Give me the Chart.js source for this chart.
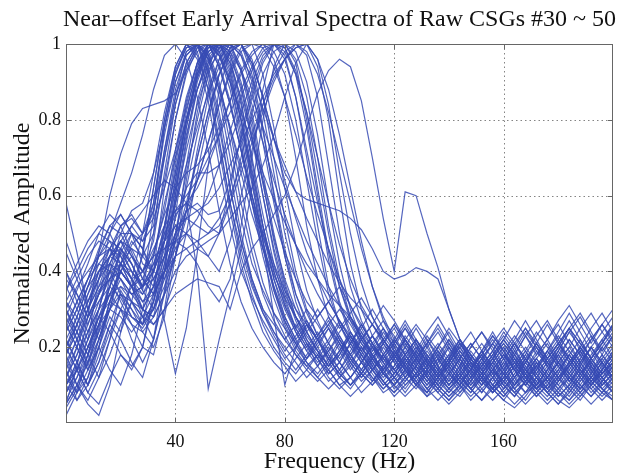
<!DOCTYPE html>
<html><head><meta charset="utf-8">
<script src="https://cdn.jsdelivr.net/npm/chart.js@4/dist/chart.umd.min.js"></script>
<style>html,body{margin:0;padding:0;background:#fff;}#wrap{width:625px;height:476px;}</style>
</head><body><div id="wrap"><canvas id="c" width="625" height="476"></canvas></div>
<script>
const titleText = 'Near\u2013offset Early Arrival Spectra of Raw CSGs #30 ~ 50';
const xTitle = 'Frequency (Hz)';
const yTitle = 'Normalized Amplitude';
const xTicks = [40, 80, 120, 160];
const yTicks = [0.2, 0.4, 0.6, 0.8, 1];
const freq = [0,4,8,12,16,20,24,28,32,36,40,44,48,52,56,60,64,68,72,76,80,84,88,92,96,100,104,108,112,116,120,124,128,132,136,140,144,148,152,156,160,164,168,172,176,180,184,188,192,196,200];

const a1 = [0.30,0.22,0.15,0.25,0.38,0.45,0.40,0.35,0.50,0.72, 0.88,0.97,1.00,0.93,0.80,0.62,0.48,0.38,0.30,0.26, 0.22,0.18,0.15,0.18,0.14,0.10,0.12,0.16,0.12,0.08, 0.10,0.14,0.11,0.07,0.09,0.13,0.10,0.06,0.09,0.12, 0.15,0.11,0.08,0.10,0.14,0.18,0.13,0.09,0.12,0.16, 0.11];
const a2 = [0.12,0.08,0.18,0.30,0.42,0.48,0.42,0.36,0.55,0.78, 0.92,1.00,0.96,0.85,0.68,0.52,0.40,0.33,0.27,0.22, 0.17,0.20,0.24,0.19,0.13,0.16,0.21,0.17,0.11,0.14, 0.19,0.15,0.10,0.13,0.17,0.12,0.08,0.11,0.15,0.19, 0.14,0.10,0.13,0.17,0.21,0.16,0.11,0.14,0.18,0.22, 0.17];
const a3 = [0.05,0.15,0.10,0.20,0.28,0.24,0.32,0.45,0.62,0.80, 0.94,1.00,0.97,0.88,0.74,0.58,0.44,0.34,0.26,0.20, 0.16,0.13,0.17,0.22,0.18,0.12,0.09,0.13,0.18,0.14, 0.09,0.12,0.16,0.21,0.15,0.10,0.13,0.09,0.06,0.10, 0.14,0.19,0.15,0.10,0.07,0.11,0.16,0.20,0.15,0.10, 0.13];
const a4 = [0.25,0.32,0.38,0.45,0.52,0.50,0.44,0.40,0.48,0.66, 0.84,0.95,1.00,0.96,0.86,0.70,0.54,0.42,0.35,0.29, 0.25,0.21,0.16,0.13,0.17,0.22,0.18,0.14,0.19,0.24, 0.20,0.15,0.11,0.14,0.18,0.22,0.17,0.12,0.15,0.19, 0.24,0.20,0.14,0.11,0.15,0.20,0.25,0.19,0.14,0.18, 0.23];
const a5 = [0.18,0.10,0.06,0.12,0.22,0.35,0.30,0.26,0.40,0.62, 0.80,0.93,1.00,0.97,0.88,0.74,0.58,0.45,0.34,0.27, 0.22,0.26,0.21,0.15,0.11,0.14,0.19,0.24,0.18,0.13, 0.17,0.22,0.18,0.12,0.08,0.12,0.17,0.13,0.10,0.14, 0.10,0.07,0.11,0.16,0.12,0.08,0.06,0.10,0.14,0.09, 0.07];
const a6 = [0.58,0.45,0.30,0.22,0.30,0.42,0.50,0.48,0.52,0.70, 0.86,0.98,1.00,0.90,0.75,0.58,0.46,0.36,0.29,0.24, 0.20,0.16,0.12,0.15,0.20,0.16,0.12,0.08,0.11,0.15, 0.12,0.08,0.12,0.17,0.13,0.09,0.07,0.11,0.16,0.12, 0.08,0.12,0.17,0.13,0.09,0.13,0.18,0.14,0.10,0.13, 0.16];
const a7 = [0.40,0.32,0.26,0.34,0.44,0.52,0.55,0.50,0.58,0.76, 0.90,0.98,1.00,0.94,0.82,0.66,0.50,0.38,0.30,0.24, 0.19,0.23,0.27,0.22,0.17,0.13,0.10,0.14,0.18,0.22, 0.17,0.12,0.09,0.13,0.17,0.13,0.09,0.12,0.17,0.21, 0.17,0.12,0.08,0.12,0.16,0.12,0.09,0.06,0.10,0.14, 0.18];
const a8 = [0.20,0.28,0.36,0.44,0.50,0.58,0.66,0.76,0.88,0.97, 1.00,0.96,0.86,0.72,0.56,0.42,0.32,0.25,0.20,0.16, 0.13,0.17,0.21,0.17,0.12,0.09,0.12,0.16,0.20,0.15, 0.11,0.15,0.19,0.14,0.10,0.07,0.10,0.14,0.18,0.13, 0.09,0.13,0.17,0.21,0.16,0.12,0.15,0.19,0.14,0.10, 0.13];
const a9 = [0.16,0.10,0.05,0.02,0.10,0.24,0.38,0.50,0.66,0.82, 0.94,1.00,0.98,0.88,0.72,0.56,0.42,0.32,0.24,0.19, 0.15,0.11,0.14,0.18,0.14,0.10,0.07,0.10,0.14,0.11, 0.07,0.10,0.13,0.09,0.06,0.09,0.13,0.17,0.13,0.09, 0.06,0.04,0.07,0.11,0.08,0.05,0.08,0.12,0.09,0.06, 0.09];
const a10 = [0.04,0.09,0.16,0.26,0.36,0.46,0.52,0.48,0.56,0.72, 0.86,0.95,1.00,0.98,0.90,0.77,0.62,0.48,0.37,0.29, 0.23,0.18,0.14,0.11,0.14,0.18,0.23,0.18,0.14,0.18, 0.22,0.27,0.22,0.17,0.13,0.17,0.22,0.18,0.14,0.10, 0.14,0.18,0.23,0.19,0.15,0.19,0.24,0.28,0.23,0.19, 0.23];
const a11 = [0.10,0.14,0.08,0.05,0.12,0.18,0.15,0.20,0.34,0.52, 0.70,0.85,0.95,1.00,0.97,0.88,0.74,0.58,0.44,0.33, 0.25,0.19,0.15,0.12,0.09,0.12,0.16,0.20,0.15,0.11, 0.08,0.11,0.15,0.11,0.08,0.05,0.08,0.12,0.16,0.12, 0.08,0.05,0.08,0.12,0.09,0.06,0.04,0.07,0.11,0.08, 0.06];
const a12 = [0.24,0.30,0.38,0.46,0.52,0.55,0.50,0.46,0.58,0.78, 0.92,0.99,1.00,0.92,0.78,0.62,0.48,0.37,0.29,0.23, 0.18,0.14,0.18,0.22,0.17,0.13,0.10,0.13,0.17,0.13, 0.10,0.07,0.10,0.14,0.10,0.07,0.10,0.14,0.18,0.14, 0.10,0.14,0.18,0.14,0.10,0.07,0.10,0.14,0.11,0.08, 0.11];

const b1 = [0.20,0.26,0.34,0.42,0.46,0.44,0.38,0.30,0.28,0.40, 0.58,0.75,0.90,0.98,1.00,0.95,0.84,0.70,0.55,0.42, 0.32,0.25,0.20,0.16,0.19,0.23,0.18,0.13,0.10,0.14, 0.18,0.14,0.10,0.08,0.12,0.16,0.20,0.15,0.11,0.08, 0.12,0.16,0.12,0.09,0.13,0.18,0.14,0.10,0.07,0.11, 0.15];
const b2 = [0.10,0.06,0.12,0.20,0.32,0.40,0.36,0.28,0.22,0.35, 0.55,0.74,0.88,0.97,1.00,0.96,0.85,0.69,0.52,0.38, 0.28,0.22,0.26,0.22,0.16,0.12,0.15,0.20,0.16,0.11, 0.08,0.12,0.17,0.13,0.09,0.06,0.10,0.14,0.19,0.15, 0.10,0.07,0.11,0.15,0.11,0.07,0.10,0.15,0.20,0.15, 0.11];
const b3 = [0.32,0.28,0.22,0.30,0.40,0.46,0.42,0.35,0.30,0.42, 0.60,0.78,0.92,1.00,0.97,0.90,0.78,0.63,0.48,0.36, 0.27,0.21,0.17,0.20,0.25,0.21,0.16,0.12,0.16,0.21, 0.17,0.13,0.17,0.22,0.18,0.13,0.10,0.14,0.19,0.24, 0.19,0.14,0.18,0.23,0.27,0.22,0.17,0.13,0.17,0.22, 0.26];
const b4 = [0.15,0.22,0.28,0.35,0.38,0.32,0.26,0.20,0.18,0.30, 0.48,0.68,0.85,0.95,1.00,0.97,0.88,0.75,0.60,0.46, 0.35,0.27,0.21,0.17,0.13,0.16,0.21,0.26,0.21,0.16, 0.12,0.09,0.13,0.18,0.14,0.10,0.14,0.19,0.15,0.11, 0.15,0.20,0.25,0.20,0.15,0.11,0.15,0.20,0.16,0.12, 0.09];
const b5 = [0.08,0.14,0.22,0.38,0.50,0.55,0.50,0.42,0.40,0.52, 0.66,0.82,0.94,1.00,0.98,0.91,0.80,0.66,0.52,0.40, 0.31,0.25,0.20,0.24,0.19,0.14,0.10,0.13,0.17,0.13, 0.10,0.14,0.10,0.07,0.11,0.15,0.11,0.08,0.12,0.16, 0.13,0.09,0.06,0.10,0.14,0.10,0.07,0.11,0.15,0.12, 0.08];
const b6 = [0.22,0.16,0.10,0.16,0.26,0.34,0.30,0.24,0.20,0.28, 0.44,0.64,0.82,0.94,1.00,0.98,0.90,0.78,0.63,0.49, 0.38,0.30,0.24,0.19,0.15,0.18,0.23,0.19,0.14,0.10, 0.13,0.18,0.22,0.17,0.12,0.16,0.21,0.16,0.12,0.09, 0.13,0.17,0.13,0.09,0.12,0.17,0.22,0.18,0.13,0.17, 0.21];
const b7 = [0.28,0.35,0.42,0.50,0.55,0.52,0.45,0.38,0.34,0.44, 0.62,0.80,0.93,1.00,0.99,0.92,0.80,0.65,0.50,0.38, 0.30,0.24,0.19,0.15,0.19,0.24,0.28,0.23,0.18,0.14, 0.18,0.23,0.19,0.15,0.20,0.25,0.21,0.17,0.13,0.17, 0.22,0.27,0.23,0.18,0.22,0.27,0.31,0.26,0.21,0.26, 0.30];
const b8 = [0.26,0.20,0.14,0.20,0.30,0.40,0.47,0.50,0.54,0.62, 0.72,0.83,0.93,0.99,1.00,0.94,0.82,0.67,0.52,0.40, 0.31,0.24,0.19,0.23,0.28,0.23,0.18,0.14,0.11,0.15, 0.19,0.15,0.11,0.08,0.12,0.16,0.12,0.09,0.13,0.17, 0.21,0.17,0.12,0.09,0.12,0.16,0.12,0.09,0.13,0.18, 0.14];
const b9 = [0.06,0.12,0.20,0.28,0.24,0.18,0.14,0.20,0.32,0.48, 0.64,0.80,0.92,0.99,1.00,0.93,0.80,0.64,0.48,0.35, 0.26,0.20,0.16,0.12,0.16,0.21,0.17,0.13,0.17,0.22, 0.18,0.14,0.10,0.14,0.19,0.15,0.11,0.08,0.12,0.16, 0.12,0.08,0.05,0.08,0.12,0.16,0.12,0.08,0.05,0.08, 0.12];
const b10 = [0.35,0.42,0.48,0.52,0.50,0.44,0.38,0.32,0.36,0.48, 0.64,0.80,0.92,0.98,1.00,0.97,0.89,0.76,0.60,0.45, 0.33,0.25,0.30,0.26,0.21,0.16,0.12,0.16,0.21,0.25, 0.20,0.15,0.19,0.24,0.28,0.23,0.18,0.14,0.18,0.23, 0.19,0.15,0.19,0.24,0.20,0.16,0.20,0.25,0.29,0.24, 0.20];
const b11 = [0.02,0.08,0.14,0.20,0.14,0.10,0.18,0.30,0.44,0.58, 0.70,0.80,0.88,0.95,0.99,1.00,0.94,0.82,0.66,0.50, 0.37,0.28,0.22,0.17,0.21,0.26,0.21,0.16,0.12,0.09, 0.12,0.16,0.20,0.16,0.12,0.08,0.11,0.15,0.19,0.15, 0.11,0.08,0.11,0.15,0.19,0.15,0.11,0.08,0.11,0.15, 0.19];
const b12 = [0.38,0.34,0.28,0.34,0.42,0.48,0.46,0.40,0.44,0.56, 0.72,0.86,0.95,1.00,0.98,0.90,0.76,0.60,0.46,0.35, 0.27,0.21,0.25,0.30,0.25,0.19,0.14,0.18,0.23,0.19, 0.14,0.11,0.15,0.19,0.15,0.11,0.15,0.20,0.24,0.20, 0.15,0.19,0.24,0.20,0.16,0.20,0.25,0.21,0.17,0.21, 0.26];

const d1 = [0.12,0.20,0.30,0.40,0.44,0.42,0.36,0.30,0.26,0.30, 0.38,0.50,0.66,0.80,0.92,0.99,1.00,0.94,0.82,0.66, 0.50,0.38,0.29,0.23,0.18,0.14,0.18,0.23,0.18,0.13, 0.10,0.14,0.19,0.15,0.11,0.08,0.12,0.17,0.13,0.09, 0.06,0.10,0.15,0.12,0.08,0.05,0.09,0.13,0.10,0.07, 0.10];
const d2 = [0.30,0.24,0.18,0.24,0.36,0.45,0.50,0.46,0.40,0.38, 0.44,0.56,0.72,0.86,0.96,1.00,0.97,0.88,0.74,0.58, 0.44,0.34,0.27,0.22,0.26,0.21,0.16,0.12,0.15,0.20, 0.16,0.12,0.15,0.20,0.24,0.19,0.14,0.10,0.14,0.18, 0.14,0.10,0.14,0.19,0.15,0.11,0.15,0.19,0.23,0.18, 0.14];
const d3 = [0.05,0.10,0.18,0.28,0.34,0.30,0.22,0.16,0.22,0.34, 0.50,0.66,0.80,0.92,0.99,1.00,0.93,0.80,0.64,0.48, 0.36,0.28,0.22,0.18,0.22,0.27,0.22,0.17,0.13,0.09, 0.12,0.16,0.12,0.08,0.12,0.17,0.22,0.18,0.14,0.10, 0.07,0.11,0.16,0.20,0.16,0.12,0.08,0.12,0.16,0.12, 0.08];
const d4 = [0.45,0.38,0.30,0.36,0.44,0.48,0.44,0.38,0.34,0.40, 0.50,0.62,0.76,0.88,0.96,1.00,0.98,0.90,0.77,0.61, 0.46,0.34,0.26,0.20,0.15,0.19,0.24,0.19,0.15,0.11, 0.15,0.20,0.16,0.12,0.16,0.20,0.16,0.12,0.08,0.12, 0.16,0.12,0.16,0.21,0.17,0.13,0.09,0.13,0.17,0.13, 0.17];
const d5 = [0.14,0.08,0.12,0.22,0.30,0.36,0.32,0.26,0.30,0.38, 0.48,0.58,0.70,0.82,0.92,0.98,1.00,0.96,0.86,0.70, 0.54,0.40,0.30,0.23,0.27,0.22,0.17,0.13,0.10,0.13, 0.17,0.21,0.17,0.12,0.09,0.13,0.17,0.13,0.09,0.06, 0.09,0.13,0.17,0.13,0.09,0.12,0.16,0.20,0.16,0.12, 0.15];
const d6 = [0.32,0.26,0.20,0.26,0.34,0.40,0.44,0.40,0.36,0.40, 0.48,0.56,0.64,0.74,0.84,0.93,0.99,1.00,0.92,0.78, 0.62,0.47,0.35,0.27,0.21,0.17,0.21,0.26,0.21,0.16, 0.20,0.25,0.20,0.15,0.11,0.15,0.19,0.15,0.11,0.15, 0.19,0.23,0.19,0.14,0.18,0.22,0.27,0.22,0.17,0.21, 0.26];

const c1 = [0.18,0.26,0.34,0.40,0.42,0.38,0.34,0.36,0.42,0.50, 0.56,0.60,0.64,0.70,0.76,0.82,0.88,0.94,0.99,1.00, 0.96,0.86,0.70,0.52,0.36,0.26,0.20,0.16,0.20,0.25, 0.21,0.16,0.12,0.15,0.20,0.16,0.12,0.09,0.13,0.18, 0.22,0.18,0.13,0.10,0.14,0.19,0.24,0.20,0.15,0.11, 0.15];
const c2 = [0.35,0.40,0.46,0.50,0.48,0.42,0.36,0.38,0.45,0.55, 0.62,0.66,0.68,0.72,0.78,0.85,0.92,0.97,1.00,0.98, 0.92,0.80,0.64,0.48,0.34,0.26,0.21,0.25,0.30,0.25, 0.19,0.14,0.18,0.23,0.19,0.14,0.10,0.14,0.19,0.23, 0.19,0.14,0.10,0.14,0.19,0.24,0.29,0.24,0.19,0.14, 0.18];
const c3 = [0.10,0.16,0.24,0.32,0.36,0.33,0.28,0.25,0.30,0.40, 0.50,0.56,0.58,0.55,0.56,0.64,0.75,0.86,0.95,1.00, 0.99,0.93,0.82,0.66,0.50,0.36,0.27,0.21,0.17,0.21, 0.25,0.20,0.15,0.11,0.15,0.20,0.15,0.11,0.08,0.12, 0.16,0.21,0.17,0.12,0.09,0.13,0.18,0.14,0.10,0.14, 0.19];
const c4 = [0.26,0.20,0.14,0.22,0.32,0.38,0.34,0.30,0.36,0.46, 0.52,0.50,0.46,0.44,0.50,0.62,0.76,0.88,0.96,1.00, 1.00,0.96,0.86,0.70,0.52,0.38,0.28,0.22,0.26,0.31, 0.27,0.22,0.17,0.21,0.26,0.21,0.16,0.12,0.16,0.21, 0.17,0.12,0.16,0.21,0.26,0.21,0.16,0.20,0.25,0.29, 0.24];
const c5 = [0.14,0.20,0.28,0.34,0.38,0.40,0.36,0.32,0.34,0.40, 0.46,0.50,0.48,0.44,0.40,0.48,0.60,0.72,0.84,0.93, 0.98,1.00,0.97,0.86,0.68,0.50,0.36,0.27,0.21,0.17, 0.21,0.26,0.21,0.16,0.12,0.16,0.21,0.17,0.13,0.09, 0.13,0.18,0.14,0.10,0.14,0.19,0.15,0.11,0.15,0.20, 0.16];
const c6 = [0.22,0.28,0.36,0.44,0.48,0.46,0.40,0.36,0.40,0.48, 0.55,0.58,0.56,0.52,0.50,0.58,0.70,0.82,0.92,0.98, 1.00,0.98,0.90,0.76,0.58,0.42,0.30,0.22,0.17,0.21, 0.26,0.21,0.16,0.12,0.16,0.21,0.17,0.13,0.17,0.21, 0.25,0.21,0.16,0.12,0.16,0.20,0.16,0.12,0.17,0.21, 0.25];
const c7 = [0.30,0.36,0.40,0.44,0.46,0.42,0.38,0.40,0.46,0.52, 0.56,0.58,0.62,0.68,0.76,0.85,0.93,0.98,1.00,0.96, 0.86,0.70,0.52,0.38,0.28,0.22,0.18,0.22,0.26,0.21, 0.16,0.20,0.25,0.20,0.15,0.11,0.15,0.20,0.24,0.19, 0.14,0.18,0.23,0.27,0.22,0.17,0.13,0.17,0.22,0.26, 0.21];
const c8 = [0.08,0.14,0.20,0.26,0.30,0.28,0.24,0.28,0.34,0.40, 0.44,0.46,0.48,0.50,0.54,0.60,0.68,0.76,0.84,0.91, 0.96,0.99,1.00,0.94,0.80,0.60,0.42,0.30,0.23,0.18, 0.14,0.18,0.22,0.18,0.14,0.10,0.14,0.18,0.14,0.10, 0.07,0.10,0.14,0.11,0.08,0.12,0.16,0.12,0.08,0.11, 0.14];
const c9 = [0.20,0.14,0.08,0.14,0.22,0.30,0.36,0.40,0.44,0.46, 0.48,0.50,0.54,0.60,0.68,0.77,0.86,0.93,0.98,1.00, 0.99,0.92,0.78,0.60,0.43,0.31,0.23,0.18,0.14,0.18, 0.22,0.18,0.14,0.10,0.13,0.17,0.21,0.17,0.13,0.09, 0.12,0.16,0.20,0.16,0.12,0.16,0.20,0.16,0.12,0.16, 0.20];

const e1 = [0.16,0.22,0.30,0.38,0.44,0.46,0.42,0.36,0.40,0.52, 0.66,0.80,0.91,0.98,1.00,0.98,0.93,0.86,0.78,0.70, 0.62,0.55,0.48,0.42,0.36,0.31,0.27,0.23,0.19,0.22, 0.26,0.22,0.17,0.13,0.17,0.22,0.18,0.14,0.10,0.14, 0.18,0.14,0.10,0.14,0.19,0.15,0.11,0.15,0.20,0.16, 0.12];
const e2 = [0.08,0.12,0.18,0.26,0.34,0.40,0.36,0.30,0.36,0.50, 0.68,0.84,0.95,1.00,0.97,0.90,0.82,0.74,0.66,0.59, 0.53,0.47,0.42,0.38,0.34,0.31,0.28,0.24,0.20,0.17, 0.14,0.18,0.22,0.18,0.14,0.10,0.13,0.17,0.21,0.17, 0.13,0.09,0.12,0.16,0.12,0.09,0.12,0.16,0.20,0.16, 0.12];
const e3 = [0.26,0.32,0.38,0.42,0.40,0.34,0.28,0.26,0.32,0.44, 0.58,0.72,0.84,0.93,0.98,1.00,0.97,0.91,0.83,0.75, 0.68,0.61,0.54,0.48,0.42,0.37,0.33,0.30,0.26,0.22, 0.18,0.14,0.17,0.21,0.25,0.20,0.15,0.11,0.15,0.19, 0.23,0.19,0.14,0.18,0.22,0.26,0.21,0.16,0.20,0.24, 0.28];
const e4 = [0.12,0.18,0.24,0.30,0.34,0.36,0.34,0.36,0.42,0.48, 0.52,0.54,0.52,0.50,0.52,0.58,0.66,0.74,0.82,0.90, 0.96,1.00,0.98,0.92,0.82,0.70,0.58,0.46,0.36,0.28, 0.22,0.18,0.14,0.17,0.21,0.17,0.13,0.09,0.12,0.16, 0.20,0.16,0.12,0.15,0.19,0.23,0.19,0.15,0.11,0.14, 0.18];
const e5 = [0.40,0.34,0.28,0.32,0.38,0.42,0.40,0.36,0.38,0.44, 0.50,0.54,0.56,0.58,0.62,0.68,0.74,0.80,0.86,0.92, 0.96,0.99,1.00,0.96,0.88,0.76,0.62,0.48,0.36,0.27, 0.21,0.25,0.21,0.16,0.12,0.16,0.20,0.24,0.19,0.14, 0.18,0.22,0.27,0.22,0.17,0.21,0.25,0.29,0.24,0.19, 0.23];
const e6 = [0.22,0.16,0.10,0.16,0.24,0.30,0.28,0.26,0.32,0.42, 0.54,0.62,0.66,0.66,0.68,0.74,0.82,0.90,0.97,1.00, 0.98,0.92,0.82,0.70,0.58,0.47,0.38,0.31,0.26,0.22, 0.18,0.14,0.10,0.14,0.18,0.14,0.10,0.07,0.10,0.14, 0.11,0.08,0.11,0.15,0.11,0.08,0.05,0.08,0.12,0.09, 0.06];
const e7 = [0.05,0.10,0.16,0.24,0.30,0.34,0.32,0.28,0.30,0.36, 0.44,0.54,0.64,0.74,0.84,0.92,0.98,1.00,0.99,0.94, 0.86,0.76,0.65,0.55,0.46,0.38,0.31,0.25,0.20,0.16, 0.12,0.16,0.20,0.16,0.12,0.09,0.12,0.16,0.12,0.08, 0.11,0.15,0.11,0.07,0.10,0.14,0.10,0.07,0.10,0.14, 0.10];
const e8 = [0.48,0.40,0.32,0.38,0.46,0.52,0.54,0.50,0.56,0.70, 0.84,0.94,0.99,1.00,0.94,0.84,0.72,0.60,0.50,0.42, 0.35,0.30,0.26,0.22,0.26,0.30,0.26,0.21,0.17,0.13, 0.17,0.22,0.18,0.14,0.10,0.14,0.18,0.14,0.10,0.13, 0.17,0.21,0.17,0.13,0.17,0.21,0.17,0.13,0.09,0.12, 0.16];
const e9 = [0.14,0.06,0.10,0.18,0.26,0.22,0.16,0.12,0.22,0.40, 0.60,0.78,0.91,0.99,1.00,0.95,0.86,0.75,0.64,0.54, 0.45,0.38,0.32,0.28,0.32,0.36,0.31,0.26,0.21,0.17, 0.13,0.17,0.13,0.09,0.13,0.17,0.13,0.09,0.06,0.09, 0.13,0.17,0.13,0.09,0.06,0.09,0.13,0.17,0.13,0.09, 0.06];
const e10 = [0.32,0.38,0.44,0.48,0.46,0.40,0.36,0.44,0.62,0.80, 0.93,0.99,1.00,0.96,0.88,0.78,0.68,0.58,0.49,0.41, 0.34,0.28,0.23,0.19,0.15,0.19,0.24,0.20,0.16,0.12, 0.15,0.19,0.15,0.11,0.14,0.18,0.22,0.18,0.14,0.18, 0.22,0.18,0.14,0.10,0.14,0.18,0.22,0.18,0.22,0.26, 0.22];
const e11 = [0.18,0.24,0.30,0.36,0.40,0.42,0.38,0.34,0.38,0.44, 0.48,0.46,0.42,0.36,0.32,0.38,0.52,0.70,0.88,1.00, 0.97,0.86,0.72,0.58,0.46,0.36,0.28,0.22,0.18,0.14, 0.18,0.22,0.18,0.14,0.10,0.13,0.17,0.21,0.17,0.13, 0.17,0.21,0.25,0.21,0.17,0.21,0.25,0.21,0.17,0.13, 0.16];
const e12 = [0.20,0.14,0.20,0.28,0.36,0.42,0.46,0.44,0.40,0.48, 0.62,0.76,0.88,0.96,1.00,0.99,0.93,0.84,0.74,0.64, 0.55,0.47,0.40,0.34,0.29,0.25,0.29,0.33,0.28,0.23, 0.19,0.15,0.12,0.15,0.19,0.15,0.11,0.14,0.18,0.22, 0.18,0.14,0.10,0.13,0.17,0.21,0.17,0.13,0.16,0.20, 0.24];
const e13 = [0.10,0.16,0.22,0.28,0.32,0.30,0.26,0.24,0.28,0.34, 0.40,0.44,0.46,0.48,0.50,0.54,0.58,0.62,0.68,0.76, 0.86,0.95,1.00,0.96,0.84,0.66,0.50,0.37,0.28,0.22, 0.18,0.22,0.26,0.22,0.17,0.13,0.17,0.21,0.17,0.13, 0.13,0.10,0.13,0.17,0.13,0.10,0.14,0.18,0.14,0.10, 0.13];
const e14 = [0.30,0.24,0.18,0.12,0.18,0.26,0.32,0.30,0.28,0.34, 0.44,0.56,0.70,0.82,0.92,0.98,1.00,0.95,0.86,0.75, 0.64,0.54,0.45,0.38,0.32,0.27,0.23,0.19,0.23,0.27, 0.23,0.18,0.14,0.10,0.14,0.18,0.14,0.10,0.13,0.17, 0.13,0.09,0.13,0.17,0.13,0.09,0.06,0.09,0.13,0.17, 0.13];
const e15 = [0.36,0.30,0.24,0.30,0.40,0.50,0.56,0.58,0.66,0.78, 0.90,0.97,1.00,0.97,0.89,0.78,0.66,0.55,0.46,0.39, 0.33,0.28,0.24,0.28,0.32,0.27,0.22,0.18,0.14,0.17, 0.21,0.17,0.13,0.16,0.20,0.24,0.19,0.15,0.11,0.14, 0.18,0.14,0.10,0.07,0.10,0.14,0.18,0.14,0.10,0.13, 0.17];

const plateau = [0.20,0.26,0.32,0.38,0.42,0.40,0.36,0.34,0.40,0.48, 0.58,0.68,0.78,0.87,0.94,0.99,1.00,0.95,0.86,0.75, 0.66,0.61,0.59,0.58,0.57,0.56,0.54,0.51,0.46,0.40, 0.38,0.39,0.41,0.40,0.38,0.30,0.22,0.16,0.12,0.16, 0.20,0.16,0.12,0.09,0.12,0.16,0.13,0.10,0.07,0.10, 0.13];
const late100 = [0.12,0.18,0.26,0.34,0.40,0.38,0.32,0.28,0.26,0.30, 0.34,0.36,0.38,0.37,0.36,0.30,0.40,0.46,0.50,0.55, 0.60,0.68,0.78,0.87,0.93,0.96,0.94,0.85,0.70,0.54, 0.40,0.61,0.60,0.50,0.41,0.30,0.22,0.17,0.13,0.17, 0.21,0.17,0.13,0.09,0.12,0.16,0.12,0.09,0.12,0.16, 0.12];
const broad = [0.10,0.15,0.28,0.45,0.60,0.71,0.79,0.83,0.84,0.85, 0.87,0.93,0.98,1.00,0.95,0.85,0.72,0.58,0.46,0.36, 0.28,0.22,0.17,0.21,0.25,0.20,0.15,0.11,0.14,0.18, 0.14,0.10,0.13,0.17,0.13,0.09,0.12,0.16,0.12,0.08, 0.11,0.15,0.11,0.08,0.11,0.15,0.19,0.15,0.11,0.14, 0.18];
const notch52 = [0.24,0.30,0.36,0.40,0.44,0.48,0.52,0.56,0.60,0.64, 0.62,0.58,0.40,0.09,0.22,0.34,0.46,0.62,0.80,0.94, 1.00,0.95,0.80,0.62,0.45,0.32,0.24,0.19,0.23,0.18, 0.13,0.17,0.21,0.16,0.12,0.15,0.19,0.15,0.11,0.08, 0.11,0.15,0.19,0.15,0.11,0.14,0.18,0.22,0.17,0.13, 0.16];
const notch40 = [0.18,0.24,0.32,0.40,0.46,0.50,0.50,0.46,0.38,0.27, 0.13,0.25,0.45,0.68,0.88,0.98,1.00,0.92,0.78,0.60, 0.44,0.32,0.24,0.19,0.15,0.19,0.23,0.18,0.14,0.10, 0.13,0.17,0.13,0.09,0.12,0.16,0.20,0.16,0.12,0.09, 0.12,0.16,0.12,0.08,0.05,0.08,0.12,0.16,0.12,0.09, 0.12];
const notch80 = [0.28,0.22,0.16,0.22,0.32,0.42,0.48,0.44,0.50,0.64, 0.80,0.92,0.99,1.00,0.94,0.84,0.72,0.60,0.48,0.28, 0.10,0.20,0.26,0.22,0.17,0.13,0.17,0.22,0.18,0.14, 0.10,0.13,0.17,0.13,0.09,0.06,0.09,0.13,0.17,0.13, 0.09,0.12,0.16,0.12,0.08,0.11,0.15,0.19,0.15,0.11, 0.08];

const seriesList = [a1,a2,a3,a4,a5,a6,a7,a8,a9,a10,a11,a12,b1,b2,b3,b4,b5,b6,b7,b8,b9,b10,b11,b12,d1,d2,d3,d4,d5,d6,c1,c2,c3,c4,c5,c6,c7,c8,c9,e1,e2,e3,e4,e5,e6,e7,e8,e9,e10,e11,e12,e13,e14,e15,plateau,late100,broad,notch52,notch40,notch80];

const serif = '"Liberation Serif", "Times New Roman", serif';
const lineColor = 'rgba(55,75,180,0.85)';

const framePlugin = {
  id: 'frame',
  beforeDatasetsDraw(chart) {
    const {ctx, chartArea: a, scales: {x, y}} = chart;
    ctx.save();
    ctx.strokeStyle = 'rgba(110,110,110,0.85)';
    ctx.lineWidth = 1;
    ctx.setLineDash([1.5, 3]);
    ctx.beginPath();
    xTicks.forEach(v => { const px = Math.round(x.getPixelForValue(v)) + 0.5; ctx.moveTo(px, a.top); ctx.lineTo(px, a.bottom); });
    yTicks.forEach(v => { if (v >= 1) return; const py = Math.round(y.getPixelForValue(v)) + 0.5; ctx.moveTo(a.left, py); ctx.lineTo(a.right, py); });
    ctx.stroke();
    ctx.restore();
  },
  afterDatasetsDraw(chart) {
    const {ctx, chartArea: a, scales: {x, y}} = chart;
    ctx.save();
    ctx.strokeStyle = '#666';
    ctx.lineWidth = 1;
    ctx.strokeRect(a.left + 0.5, a.top + 0.5, a.right - a.left - 1, a.bottom - a.top - 1);
    ctx.beginPath();
    xTicks.forEach(v => { const px = Math.round(x.getPixelForValue(v)) + 0.5; ctx.moveTo(px, a.bottom); ctx.lineTo(px, a.bottom - 5); ctx.moveTo(px, a.top); ctx.lineTo(px, a.top + 5); });
    yTicks.forEach(v => { const py = Math.round(y.getPixelForValue(v)) + 0.5; ctx.moveTo(a.left, py); ctx.lineTo(a.left + 5, py); ctx.moveTo(a.right, py); ctx.lineTo(a.right - 5, py); });
    ctx.stroke();
    ctx.fillStyle = '#111';
    ctx.font = '24px ' + serif;
    ctx.textAlign = 'center';
    ctx.textBaseline = 'alphabetic';
    ctx.fillText(titleText, (a.left + a.right) / 2, 26);
    ctx.restore();
  }
};

new Chart(document.getElementById('c'), {
  type: 'line',
  data: {
    datasets: seriesList.map(s => ({
      data: s.map((v, i) => ({x: freq[i], y: v})),
      borderColor: lineColor,
      borderWidth: 1.2,
      pointRadius: 0,
      tension: 0,
      fill: false
    }))
  },
  options: {
    responsive: false,
    devicePixelRatio: 1,
    animation: false,
    layout: {padding: {top: 44, right: 12, left: 0, bottom: 0}},
    plugins: {legend: {display: false}, title: {display: false}, tooltip: {enabled: false}},
    scales: {
      x: {
        type: 'linear', min: 0, max: 200,
        afterBuildTicks: s => { s.ticks = xTicks.map(v => ({value: v})); },
        afterFit: s => { s.height = 53; },
        grid: {display: false, drawTicks: false},
        border: {display: false},
        ticks: {padding: 8, color: '#111', font: {family: serif, size: 18}, maxRotation: 0, callback: v => String(v)},
        title: {display: true, text: xTitle, color: '#111', font: {family: serif, size: 24}, padding: {top: 0, bottom: 0}}
      },
      y: {
        type: 'linear', min: 0, max: 1,
        afterBuildTicks: s => { s.ticks = yTicks.map(v => ({value: v})); },
        afterFit: s => { s.width = 66; },
        grid: {display: false, drawTicks: false},
        border: {display: false},
        ticks: {padding: 5, color: '#111', font: {family: serif, size: 18}, callback: v => String(v)},
        title: {display: true, text: yTitle, color: '#111', font: {family: serif, size: 24}, padding: {top: 8, bottom: 0}}
      }
    }
  },
  plugins: [framePlugin]
});
</script></body></html>
